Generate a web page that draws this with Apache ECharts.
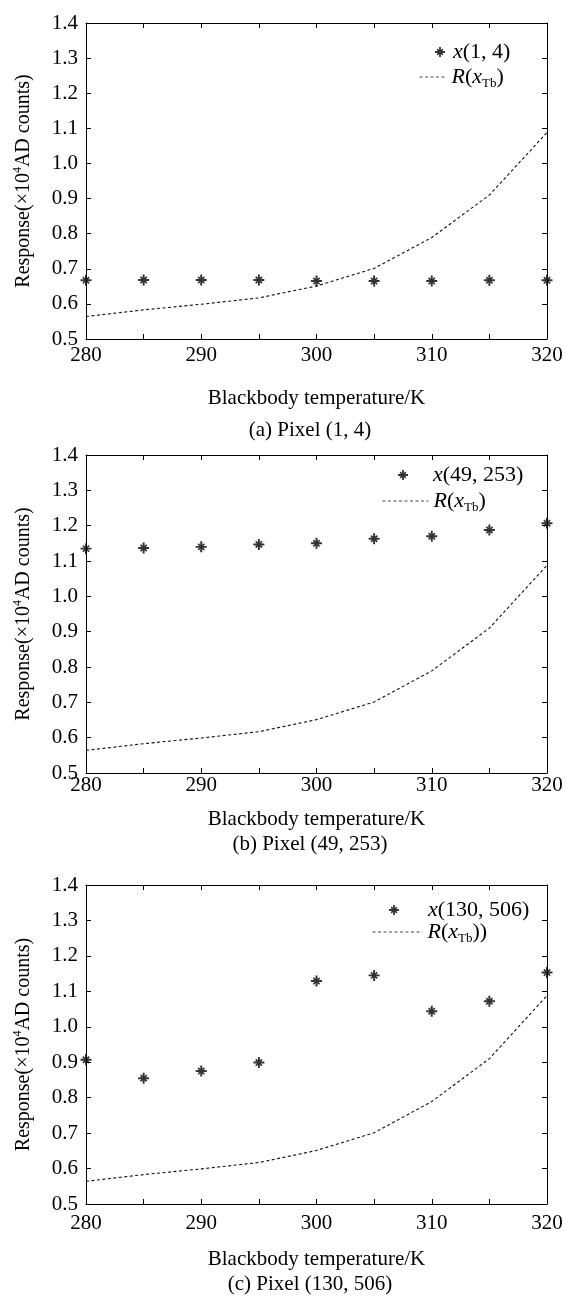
<!DOCTYPE html>
<html>
<head>
<meta charset="utf-8">
<script src="https://cdn.jsdelivr.net/npm/echarts@6/dist/echarts.min.js"></script>
<style>
html,body{margin:0;padding:0;background:#fff;}
#chart{width:566px;height:1297px;}
</style>
</head>
<body>
<div id="chart"></div>
<script>
// ---- data ----
const temps = [280, 285, 290, 295, 300, 305, 310, 315, 320];
const pixelA = [0.667, 0.668, 0.668, 0.668, 0.665, 0.665, 0.665, 0.667, 0.667];
const pixelB = [1.135, 1.137, 1.140, 1.147, 1.150, 1.163, 1.170, 1.188, 1.207];
const pixelC = [0.907, 0.855, 0.875, 0.899, 1.129, 1.145, 1.044, 1.072, 1.153];
const modelR = [0.564, 0.583, 0.599, 0.617, 0.651, 0.701, 0.789, 0.910, 1.088];
const captions = ['(a) Pixel (1, 4)', '(b) Pixel (49, 253)', '(c) Pixel (130, 506)'];
const pixelNames = ['x(1, 4)', 'x(49, 253)', 'x(130, 506)'];
const xTitle = 'Blackbody temperature/K';

// ---- layout ----
const FONT = 'Liberation Serif';
const STAR = 'path://M8.2 0L11.8 0L11.8 20L8.2 20Z M0 8.2L20 8.2L20 11.8L0 11.8Z M5.3 3.2L16.8 14.7L14.7 16.8L3.2 5.3Z M14.7 3.2L16.8 5.3L5.3 16.8L3.2 14.7Z';
const panels = [
  {top: 23, height: 316, nameGap: 49, labelMargin: 5, capTop: 420,
   leg1: {left: 435, iw: 16, top: 41}, leg2: {left: 419, iw: 27, top: 66}, rText: ')'},
  {top: 455, height: 318, nameGap: 36, labelMargin: 1, capTop: 834,
   leg1: {left: 398, iw: 50, top: 464}, leg2: {left: 382, iw: 46, top: 490}, rText: ')'},
  {top: 885, height: 319, nameGap: 45, labelMargin: 8, capTop: 1274,
   leg1: {left: 389, iw: 58, top: 899}, leg2: {left: 372, iw: 50, top: 921}, rText: '))'}
];
const pixelData = [pixelA, pixelB, pixelC];

const legendRich = {
  i: {fontStyle: 'italic', fontFamily: FONT, fontSize: 22, lineHeight: 26, color: '#000'},
  n: {fontFamily: FONT, fontSize: 22, lineHeight: 26, color: '#000'},
  s: {fontFamily: FONT, fontSize: 13, lineHeight: 13, verticalAlign: 'bottom', color: '#000'}
};
const tickRich = {t: {fontFamily: FONT, fontSize: 21, lineHeight: 22, color: '#000'}};

const grid = [], xAxis = [], yAxis = [], series = [], legend = [], title = [];
const axisLineStyle = {lineStyle: {color: '#000', width: 1}};
const tickStyle = {inside: true, length: 5, lineStyle: {color: '#000', width: 1}};

panels.forEach((p, k) => {
  grid.push({left: 86, width: 461, top: p.top, height: p.height, containLabel: false});
  xAxis.push({
    type: 'value', gridIndex: k, position: 'bottom', min: 280, max: 320, interval: 5,
    axisLine: axisLineStyle, splitLine: {show: false}, axisTick: tickStyle,
    axisLabel: {margin: p.labelMargin, fontFamily: FONT, fontSize: 21, color: '#000', rich: tickRich,
      formatter: v => (v % 10 === 0 ? '{t|' + v + '}' : '')},
    name: xTitle, nameLocation: 'middle', nameGap: p.nameGap,
    nameTextStyle: {color: '#000', fontFamily: FONT, fontSize: 21}
  });
  xAxis.push({
    type: 'value', gridIndex: k, position: 'top', min: 280, max: 320, interval: 5,
    axisLine: axisLineStyle, splitLine: {show: false}, axisTick: tickStyle,
    axisLabel: {show: false}
  });
  yAxis.push({
    type: 'value', gridIndex: k, position: 'left', min: 0.5, max: 1.4, interval: 0.1,
    axisLine: axisLineStyle, splitLine: {show: false}, axisTick: tickStyle,
    axisLabel: {margin: 8, fontFamily: FONT, fontSize: 21, color: '#000', rich: tickRich,
      formatter: v => '{t|' + v.toFixed(1) + '}'},
    name: '{a|Response(×10}{u|4}{a|AD counts)}', nameLocation: 'middle', nameGap: 50,
    nameTextStyle: {color: '#000', fontFamily: FONT, fontSize: 20,
      rich: {a: {fontFamily: FONT, fontSize: 20, lineHeight: 24, color: '#000'},
             u: {fontFamily: FONT, fontSize: 12, lineHeight: 12, verticalAlign: 'top', color: '#000'}}}
  });
  yAxis.push({
    type: 'value', gridIndex: k, position: 'right', min: 0.5, max: 1.4, interval: 0.1,
    axisLine: axisLineStyle, splitLine: {show: false}, axisTick: tickStyle,
    axisLabel: {show: false}
  });
  const pName = pixelNames[k];
  const rName = 'R' + k;
  series.push({
    type: 'scatter', name: pName, xAxisIndex: 2 * k, yAxisIndex: 2 * k,
    symbol: STAR, symbolSize: 11, itemStyle: {color: '#000'},
    data: temps.map((t, i) => [t, pixelData[k][i]]), z: 3
  });
  series.push({
    type: 'line', name: rName, xAxisIndex: 2 * k, yAxisIndex: 2 * k,
    symbol: 'none', itemStyle: {color: 'rgba(0,0,0,0)'},
    lineStyle: {color: '#111', width: 1.1, type: [3, 2.5]},
    data: temps.map((t, i) => [t, modelR[i]])
  });
  legend.push({
    data: [{name: pName, icon: STAR}], left: p.leg1.left, top: p.leg1.top, padding: 0,
    itemWidth: p.leg1.iw, itemHeight: 10, selectedMode: false,
    itemStyle: {color: '#000'},
    formatter: n => '{i|x}{n|' + n.slice(1) + '}',
    textStyle: {rich: legendRich}
  });
  legend.push({
    data: [rName], left: p.leg2.left, top: p.leg2.top, padding: 0,
    itemWidth: p.leg2.iw, itemHeight: 10, selectedMode: false,
    itemStyle: {color: 'rgba(0,0,0,0)', borderColor: 'rgba(0,0,0,0)', borderWidth: 0},
    lineStyle: {color: '#444', width: 1, type: [3, 2.5]},
    formatter: () => '{i|R}{n|(}{i|x}{s|Tb}{n|' + p.rText + '}',
    textStyle: {rich: legendRich}
  });
  title.push({
    text: captions[k], left: 310, textAlign: 'center', top: p.capTop, padding: 0,
    textStyle: {fontFamily: FONT, fontSize: 21, fontWeight: 'normal', color: '#000'}
  });
});

const chart = echarts.init(document.getElementById('chart'), null, {renderer: 'canvas'});
chart.setOption({
  animation: false,
  backgroundColor: '#fff',
  textStyle: {fontFamily: FONT},
  grid, xAxis, yAxis, series, legend, title
});
</script>
</body>
</html>
